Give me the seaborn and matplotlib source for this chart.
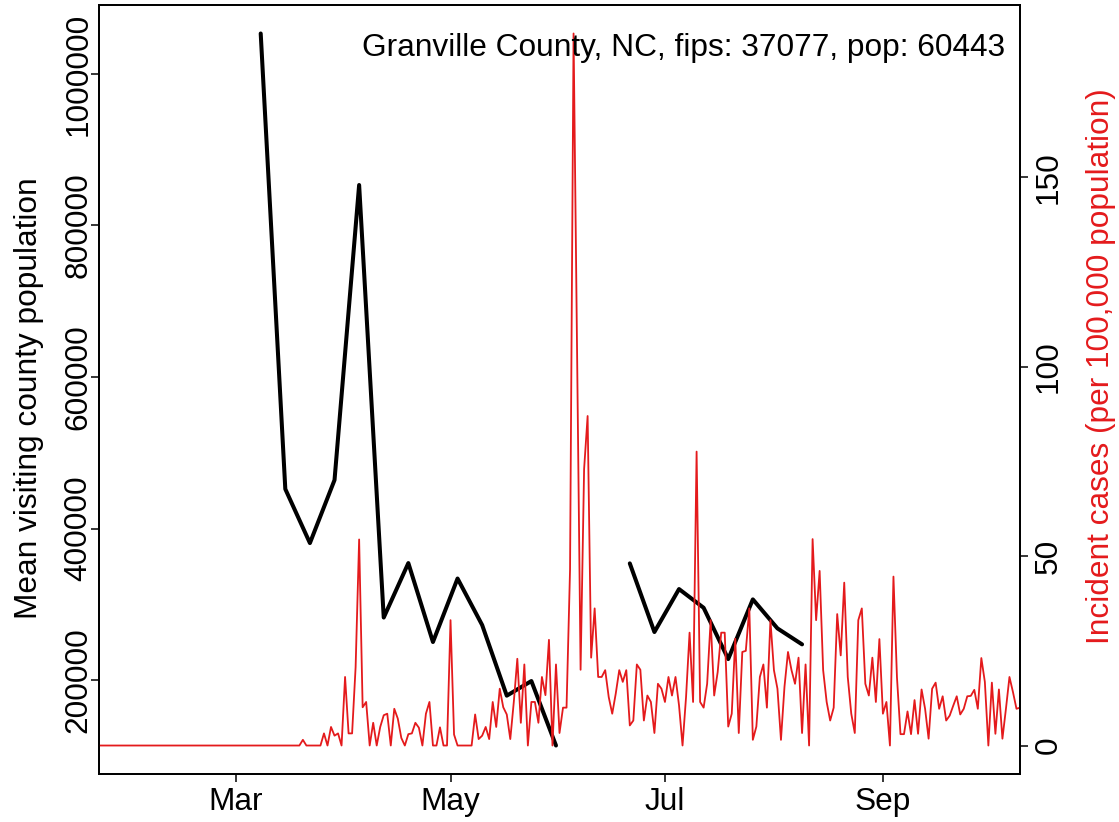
import numpy as np
import pandas as pd
import seaborn as sns
import matplotlib.pyplot as plt
import matplotlib.dates as mdates

# weekly mean visiting county population (Sundays, Mar 8 - Aug 9 2020)
visit_start = '2020-03-08'
visit_pop = [1053400, 452100, 380800, 464000, 853400, 282500, 354400, 250200,
             334000, 272600, 179400, 198700, 113600, np.nan, np.nan,
             354000, 263400, 320100, 295400, 227700, 306500, 268200, 247100]

# daily incident cases per 100,000 (Jan 22 - Oct 10 2020)
cases_start = '2020-01-22'
cases = [
    0, 0, 0, 0, 0, 0, 0, 0, 0, 0,
    0, 0, 0, 0, 0, 0, 0, 0, 0, 0,
    0, 0, 0, 0, 0, 0, 0, 0, 0, 0,
    0, 0, 0, 0, 0, 0, 0, 0, 0, 0,
    0, 0, 0, 0, 0, 0, 0, 0, 0, 0,
    0, 0, 0, 0, 0, 0, 0, 0, 1.5, 0,
    0, 0, 0, 0, 3.2, 0, 4.9, 2.6, 3.2, 0,
    18.1, 3.2, 3.2, 20.7, 54.4, 10.1, 11.5, 0, 6, 0,
    4.9, 8, 8.4, 0, 9.7, 7.1, 2, 0, 3, 3.2,
    6, 4.7, 0, 8.4, 11.5, 0, 0, 4.8, 0, 0,
    33.1, 2.9, 0, 0, 0, 0, 0, 8.2, 1.7, 2.6,
    4.9, 1.7, 11.5, 4.9, 15, 10.1, 8.2, 1.7, 11.5, 22.9,
    6, 21.4, 0, 11.5, 11.5, 6, 18.1, 13.3, 27.9, 0,
    21.4, 3.3, 10, 10, 46.5, 188, 104, 20, 73, 87,
    23.2, 36.2, 18.1, 18.1, 19.9, 12.8, 8.4, 13.7, 19.9, 16.8,
    19.9, 5.3, 6.6, 21.4, 20, 6.6, 13.2, 11.5, 3.3, 16.3,
    15, 11.5, 18.1, 13.2, 18.1, 10.6, 0, 12.8, 29.8, 11.5,
    77.6, 11.5, 10, 16.3, 33.1, 13.2, 19.4, 29.8, 29.8, 5,
    8.4, 28.2, 3.3, 24.7, 25, 36.2, 1.5, 5, 18.1, 21.4,
    10, 33.1, 19.9, 15, 1.5, 15.5, 24.7, 19.9, 16.3, 23.2,
    3.3, 21.4, 0, 54.5, 33.1, 46.1, 19.9, 11.5, 6.6, 10,
    34.7, 23.8, 43, 18.1, 8.4, 3.3, 33.1, 36.2, 16.3, 13.2,
    23.2, 11.5, 28.1, 8.4, 11.5, 0, 44.6, 18, 3, 3,
    9, 3, 12, 3.1, 14.8, 9.7, 1.8, 15, 16.6, 9.7,
    13, 6.6, 7.9, 10.5, 13, 8.2, 9.7, 13, 13.1, 14.7,
    9.7, 23.1, 16.8, 0, 16.6, 3.1, 14.8, 1.8, 9.7, 18.1,
    14.1, 9.7, 10,
]

left_ticks = [200000, 400000, 600000, 800000, 1000000]
right_ticks = [0, 50, 100, 150]
month_ticks = ['2020-03-01', '2020-05-01', '2020-07-01', '2020-09-01']
title = 'Granville County, NC, fips: 37077, pop: 60443'
left_label = 'Mean visiting county population'
right_label = 'Incident cases (per 100,000 population)'

red = '#E41A1C'

sns.set_style('white')
plt.rcParams['font.family'] = ['Liberation Sans', 'DejaVu Sans']
plt.rcParams['ytick.alignment'] = 'center'
for k in ['text.color', 'axes.labelcolor', 'xtick.color', 'ytick.color',
          'axes.edgecolor']:
    plt.rcParams[k] = 'black'
fs = 22.8

visit = pd.DataFrame({
    'date': pd.date_range(visit_start, periods=len(visit_pop), freq='7D'),
    'pop': visit_pop,
})
visit['seg'] = visit['pop'].isna().cumsum()
visit = visit.dropna()

daily = pd.DataFrame({
    'date': pd.date_range(cases_start, periods=len(cases), freq='D'),
    'cases': cases,
})

fig = plt.figure(figsize=(11.19, 8.22), dpi=100)
ax = fig.add_axes([99 / 1119, 48 / 822, 921 / 1119, 769 / 822])

# black line, broken where weeks are missing
sns.lineplot(data=visit, x='date', y='pop', units='seg', estimator=None,
             color='black', lw=2.9, ax=ax, legend=False,
             solid_capstyle='round', solid_joinstyle='round')

ax2 = ax.twinx()
sns.lineplot(data=daily, x='date', y='cases', color=red, lw=1.3, ax=ax2,
             legend=False, solid_joinstyle='round')

# R-style axis ranges (4% padding)
lo, hi = np.nanmin(visit_pop), np.nanmax(visit_pop)
pad = 0.04 * (hi - lo)
ax.set_ylim(lo - pad, hi + pad)
cmax = max(cases)
ax2.set_ylim(-0.04 * cmax, cmax * 1.04)
ax.set_xlim(daily['date'].iloc[0], daily['date'].iloc[-1])

ax.set_yticks(left_ticks, labels=[str(t) for t in left_ticks])
ax2.set_yticks(right_ticks, labels=[str(t) for t in right_ticks])
ax.set_xticks(pd.to_datetime(month_ticks))
ax.xaxis.set_major_formatter(mdates.DateFormatter('%b'))

ax.tick_params(axis='y', left=True, right=False, labelrotation=90,
               length=5.8, width=1.1, pad=-1.9, labelsize=fs, colors='black')
ax.tick_params(axis='x', bottom=True, length=5.8, width=1.1, pad=3.6,
               labelsize=fs, colors='black')
ax2.tick_params(axis='y', right=True, left=False, labelrotation=90,
                length=5.8, width=1.1, pad=4.3, labelsize=fs, colors='black')

for a in (ax, ax2):
    for s in a.spines.values():
        s.set_color('black')
        s.set_linewidth(1.3)
ax.set_xlabel('')
ax.set_ylabel('')
ax2.set_ylabel('')

ax.text(-70 / 921, 0.489, left_label, transform=ax.transAxes, rotation=90,
        ha='center', va='center', fontsize=fs, color='black')
ax2.text(1.088, 0.5306, right_label, transform=ax2.transAxes, rotation=90,
         ha='center', va='center', fontsize=fs, color=red)
ax2.text(906 / 921, 0.9337, title, transform=ax2.transAxes, ha='right',
         va='baseline', fontsize=fs, color='black')

fig.savefig('out.png', dpi=100)
